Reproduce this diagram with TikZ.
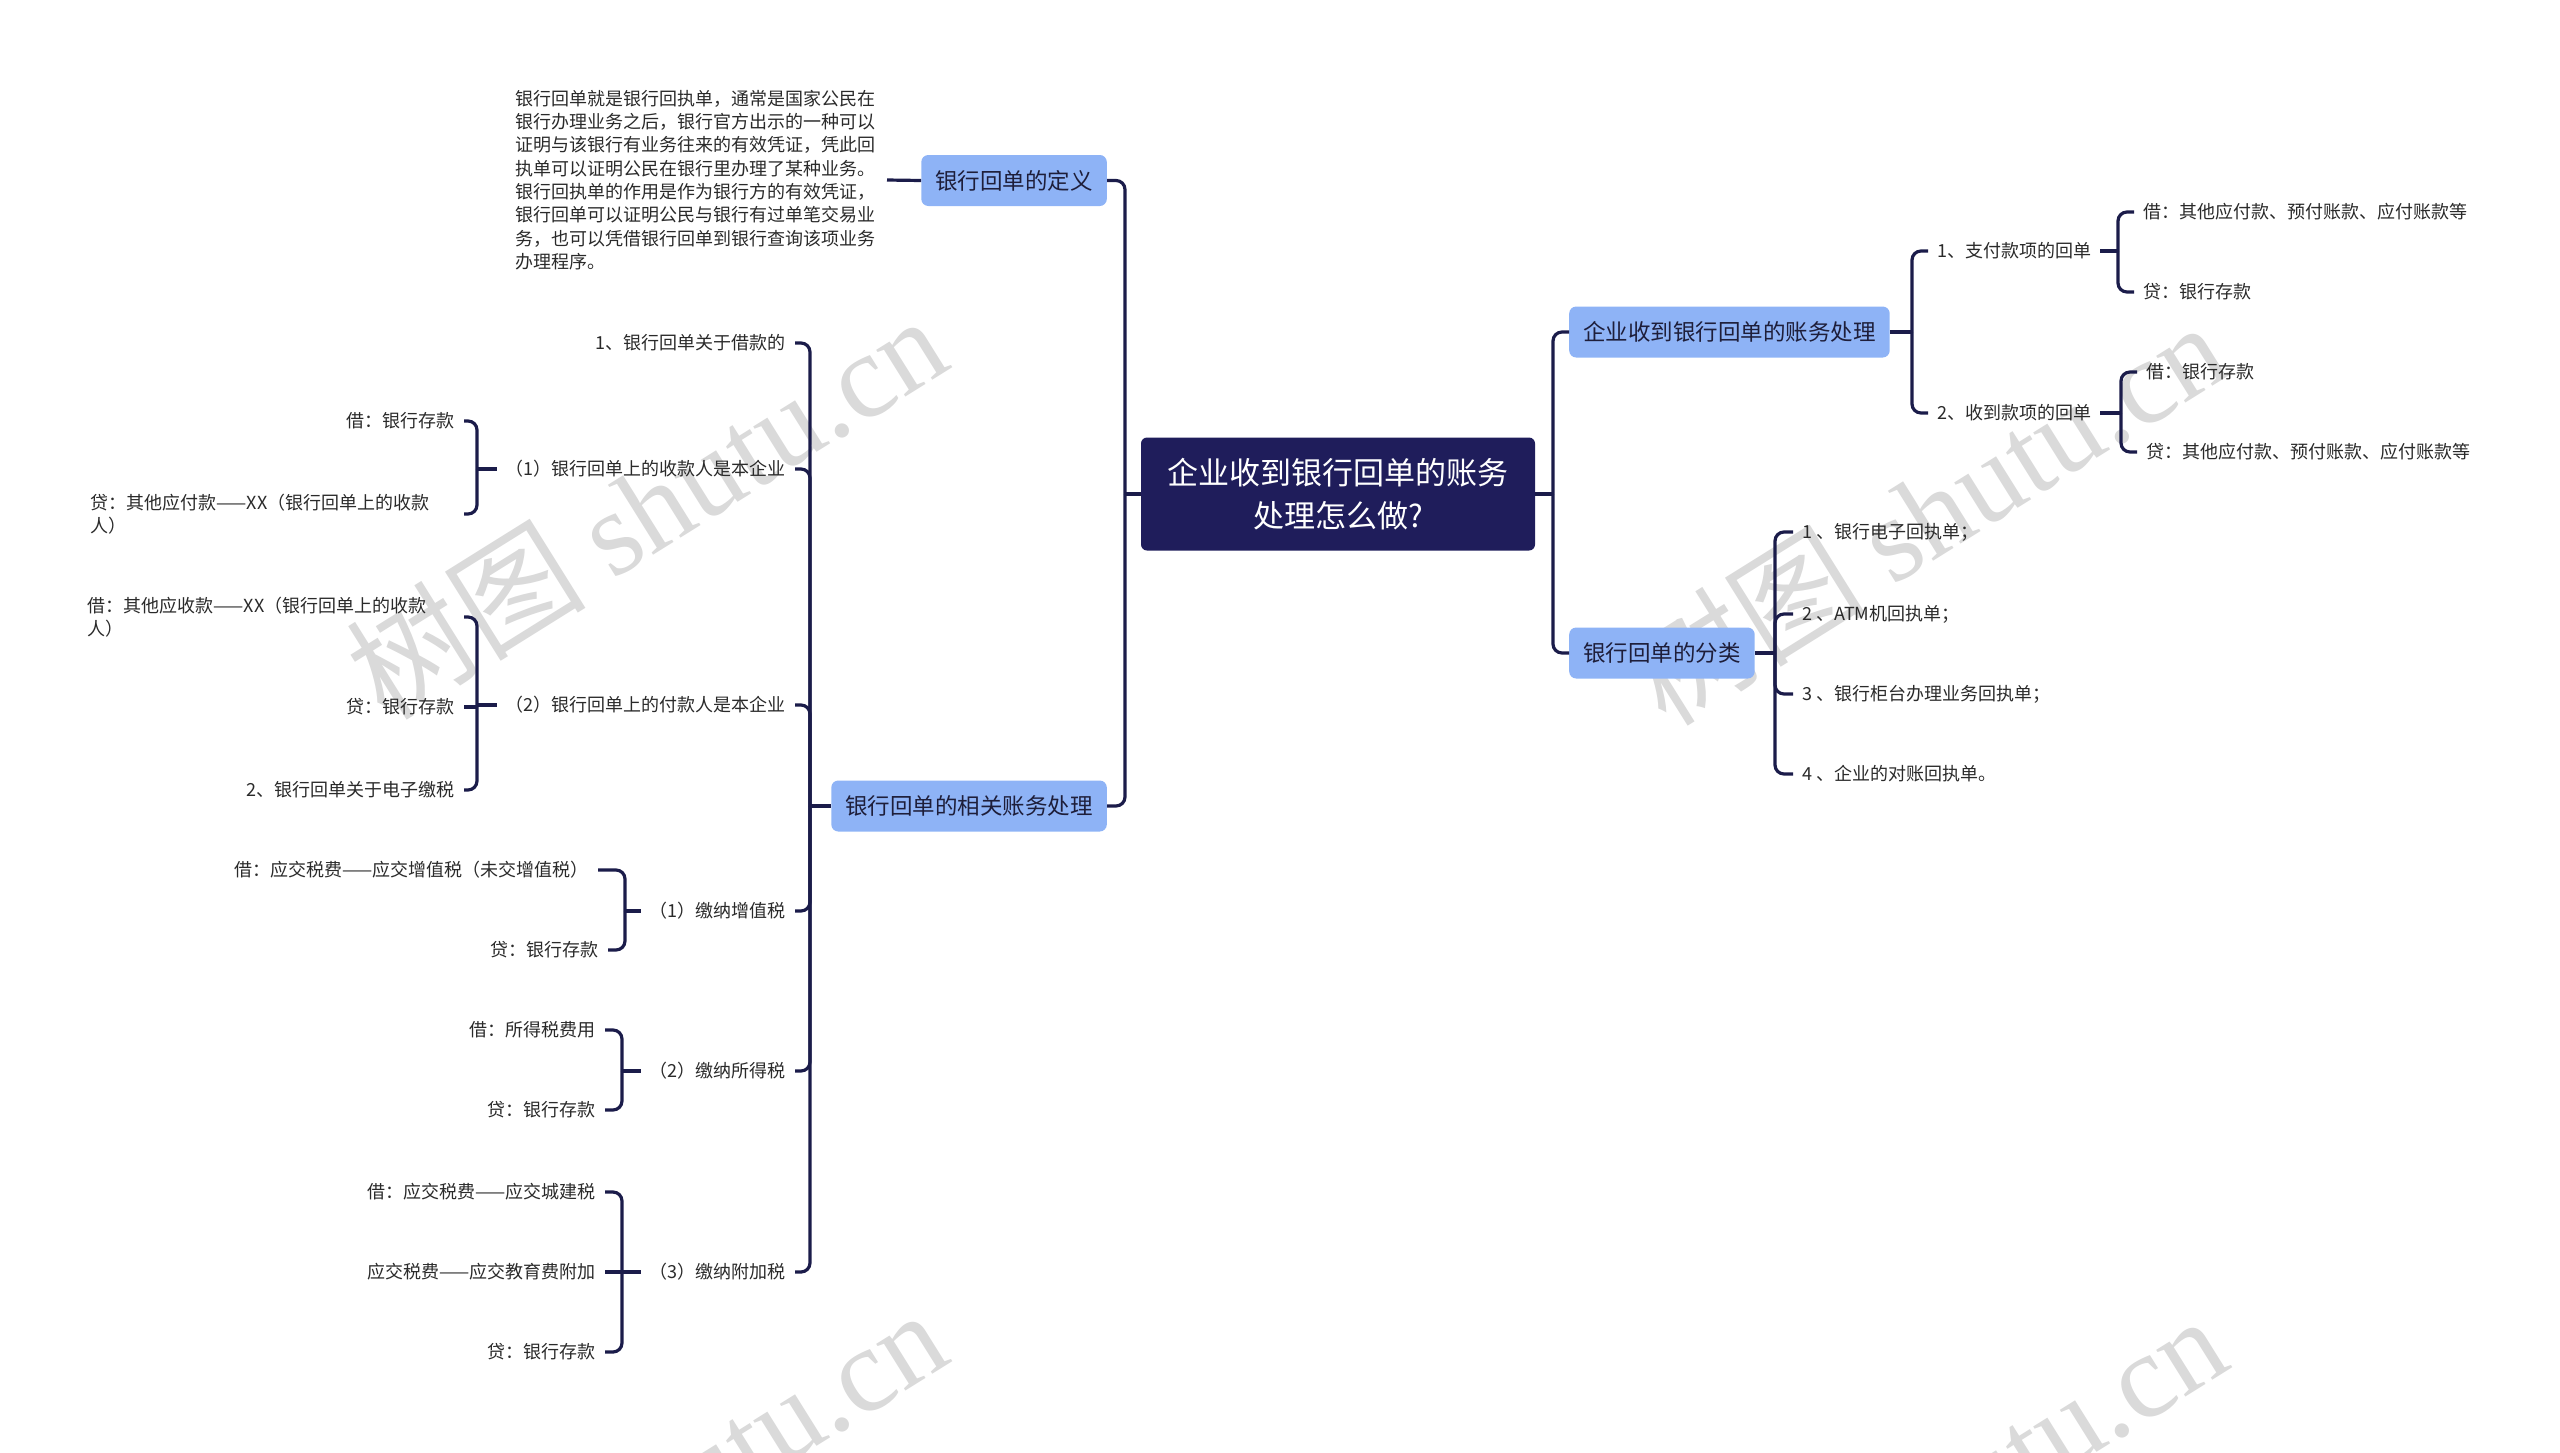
\documentclass[tikz,border=0pt]{standalone}
\usepackage{fontspec}
\setmainfont{Noto Sans CJK SC}
\newfontfamily\wmfont{Liberation Serif}
\definecolor{navy}{HTML}{1F1D5B}
\definecolor{linec}{HTML}{1B1C4A}
\definecolor{boxblue}{HTML}{8EB3F6}
\definecolor{boxtext}{HTML}{1E1E3A}
\definecolor{leaftext}{HTML}{2A2A2A}
\definecolor{wmgray}{HTML}{D3D3D3}
\begin{document}
\begin{tikzpicture}[x=1pt,y=-1pt,
  conn/.style={draw=linec, line width=3.2pt, rounded corners=9pt},
  bar/.style={draw=linec, line width=3.2pt},
  rootbox/.style={fill=navy, text=white, rounded corners=6pt, minimum width=394pt, minimum height=113pt, align=center, font=\fontsize{31}{43}\selectfont, inner sep=0pt},
  topic/.style={fill=boxblue, text=boxtext, rounded corners=7pt, minimum height=51pt, inner xsep=14pt, inner ysep=0pt, font=\fontsize{22.5}{27}\selectfont},
  leafL/.style={anchor=east, text=leaftext, inner xsep=9pt, inner ysep=2pt, font=\fontsize{18}{23.3}\selectfont},
  leafR/.style={anchor=west, text=leaftext, inner xsep=9pt, inner ysep=2pt, font=\fontsize{18}{23.3}\selectfont},
  wm/.style={rotate=32, text=wmgray, font=\fontsize{120}{125}\selectfont, opacity=0.85, inner sep=0pt}
]
\useasboundingbox (0,0) rectangle (2560,1452);
% watermarks
\begin{scope}
\clip (0,0) rectangle (2560,1452);
\node[wm] (wm1) at (646,506) {树图 {\wmfont shutu.cn}};
\node[wm] (wm2) at (1926,512) {树图 {\wmfont shutu.cn}};
\node[wm] (wm3) at (646,1500) {树图 {\wmfont shutu.cn}};
\node[wm] (wm4) at (1926,1506) {树图 {\wmfont shutu.cn}};
\end{scope}

% root
\node[rootbox] (root) at (1338,494) {企业收到银行回单的账务\\处理怎么做?};

% level 1 left
\node[topic, anchor=east] (def) at (1107,180.5) {银行回单的定义};
\node[topic, anchor=east] (rel) at (1107,806) {银行回单的相关账务处理};
\node[leafL, align=left, text width=362pt, inner ysep=0pt] (para) at (887,180) {银行回单就是银行回执单，通常是国家公民在\\银行办理业务之后，银行官方出示的一种可以\\证明与该银行有业务往来的有效凭证，凭此回\\执单可以证明公民在银行里办理了某种业务。\\银行回执单的作用是作为银行方的有效凭证，\\银行回单可以证明公民与银行有过单笔交易业\\务，也可以凭借银行回单到银行查询该项业务\\办理程序。};

% level 1 right
\node[topic, anchor=west] (acc) at (1569,332) {企业收到银行回单的账务处理};
\node[topic, anchor=west] (cls) at (1569,653) {银行回单的分类};

% children of rel
\node[leafL] (c1) at (795,343) {1、银行回单关于借款的};
\node[leafL] (c2) at (795,469) {（1）银行回单上的收款人是本企业};
\node[leafL] (c3) at (795,705) {（2）银行回单上的付款人是本企业};
\node[leafL] (c4) at (795,911) {（1）缴纳增值税};
\node[leafL] (c5) at (795,1071) {（2）缴纳所得税};
\node[leafL] (c6) at (795,1272) {（3）缴纳附加税};

% grandchildren
\node[leafL] (g1) at (464,421) {借：银行存款};
\node[leafL, align=left, text width=364pt] (g2) at (464,514) {贷：其他应付款——XX（银行回单上的收款\\人）};
\node[leafL, align=left, text width=367pt] (g3) at (464,617) {借：其他应收款——XX（银行回单上的收款\\人）};
\node[leafL] (g4) at (464,707) {贷：银行存款};
\node[leafL] (g5) at (464,790) {2、银行回单关于电子缴税};
\node[leafL] (g6) at (598,870) {借：应交税费——应交增值税（未交增值税）};
\node[leafL] (g7) at (608,950) {贷：银行存款};
\node[leafL] (g8) at (605,1030) {借：所得税费用};
\node[leafL] (g9) at (605,1110) {贷：银行存款};
\node[leafL] (g10) at (605,1192) {借：应交税费——应交城建税};
\node[leafL] (g11) at (605,1272) {应交税费——应交教育费附加};
\node[leafL] (g12) at (605,1352) {贷：银行存款};

% right children
\node[leafR] (r1) at (1928,251) {1、支付款项的回单};
\node[leafR] (r2) at (1928,413) {2、收到款项的回单};
\node[leafR] (r11) at (2134,212) {借：其他应付款、预付账款、应付账款等};
\node[leafR] (r12) at (2134,292) {贷：银行存款};
\node[leafR] (r21) at (2137,372) {借：银行存款};
\node[leafR] (r22) at (2137,452) {贷：其他应付款、预付账款、应付账款等};
\node[leafR] (k1) at (1793,532) {1 、银行电子回执单；};
\node[leafR] (k2) at (1793,614) {2 、ATM机回执单；};
\node[leafR] (k3) at (1793,694) {3 、银行柜台办理业务回执单；};
\node[leafR] (k4) at (1793,774) {4 、企业的对账回执单。};

% junctions
\coordinate (jL) at (1125,494);
\coordinate (jR) at (1553,494);
\coordinate (jRel) at (810,806);
\coordinate (j2) at (477,469);
\coordinate (j3) at (477,707);
\coordinate (j4) at (625,911);
\coordinate (j5) at (622,1071);
\coordinate (j6) at (622,1272);
\coordinate (jA) at (1912,332);
\coordinate (jB) at (2118,251);
\coordinate (jC) at (2121,413);
\coordinate (jD) at (1775,653);

% connectors
\draw[bar] (root.west) -- (jL);
\draw[conn] (jL) |- (def.east);
\draw[conn] (jL) |- (rel.east);
\draw[bar] (para.east) -- (def.west);
\draw[bar] (root.east) -- (jR);
\draw[conn] (jR) |- (acc.west);
\draw[conn] (jR) |- (cls.west);

\draw[bar] (rel.west) -- (jRel);
\foreach \c in {c1,c2,c3,c4,c5,c6} \draw[conn] (jRel) |- (\c.east);

\draw[bar] (c2.west) -- (j2);
\draw[conn] (j2) |- (g1.east);
\draw[conn] (j2) |- (g2.east);

\draw[bar] (c3.west) -- (c3.west -| j3);
\draw[conn] (j3) |- (g3.east);
\draw[bar] (j3) -- (g4.east);
\draw[conn] (j3) |- (g5.east);

\draw[bar] (c4.west) -- (j4);
\draw[conn] (j4) |- (g6.east);
\draw[conn] (j4) |- (g7.east);

\draw[bar] (c5.west) -- (j5);
\draw[conn] (j5) |- (g8.east);
\draw[conn] (j5) |- (g9.east);

\draw[bar] (c6.west) -- (j6);
\draw[conn] (j6) |- (g10.east);
\draw[bar] (j6) -- (g11.east);
\draw[conn] (j6) |- (g12.east);

\draw[bar] (acc.east) -- (jA);
\draw[conn] (jA) |- (r1.west);
\draw[conn] (jA) |- (r2.west);
\draw[bar] (r1.east) -- (jB);
\draw[conn] (jB) |- (r11.west);
\draw[conn] (jB) |- (r12.west);
\draw[bar] (r2.east) -- (jC);
\draw[conn] (jC) |- (r21.west);
\draw[conn] (jC) |- (r22.west);

\draw[bar] (cls.east) -- (jD);
\foreach \k in {k1,k2,k3,k4} \draw[conn] (jD) |- (\k.west);
\end{tikzpicture}
\end{document}
